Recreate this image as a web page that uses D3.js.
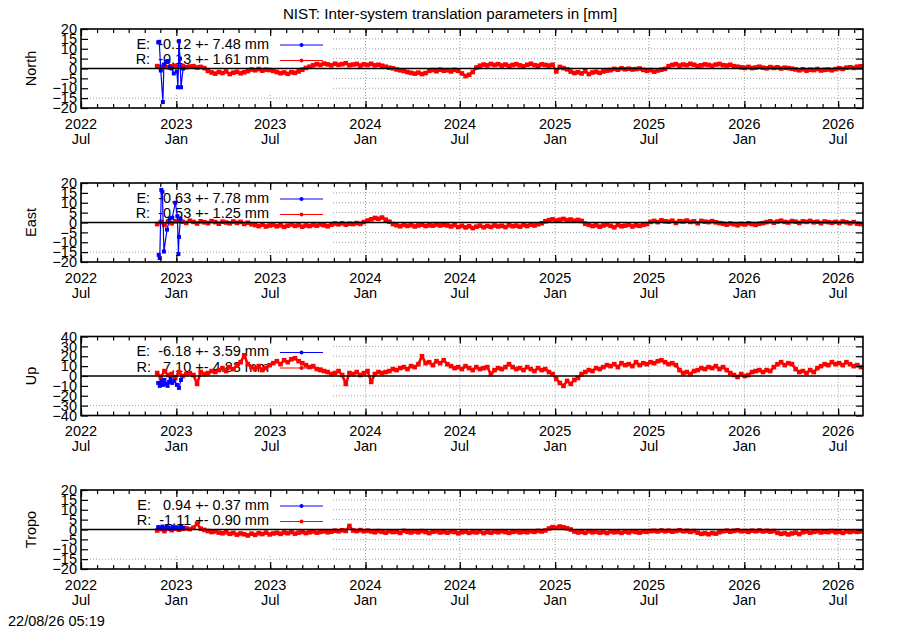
<!DOCTYPE html>
<html>
<head>
<meta charset="utf-8">
<script src="https://cdn.jsdelivr.net/npm/d3@7"></script>
<style>
  body { margin: 0; background: #fff; }
  svg text { font-family: "Liberation Sans", Arial, sans-serif; font-size: 14.5px; }
</style>
</head>
<body>
<div id="chart"></div>
<script>
// ---- data ----
const panelNames = ["North", "East", "Up", "Tropo"];
const yTicksSmall = [-20, -15, -10, -5, 0, 5, 10, 15, 20];
const yTicksUp = [-40, -30, -20, -10, 0, 10, 20, 30, 40];

const legendE = ["E:  -0.12 +- 7.48 mm", "E:  -0.63 +- 7.78 mm", "E:  -6.18 +- 3.59 mm", "E:   0.94 +- 0.37 mm"];
const legendR = ["R:  -0.13 +- 1.61 mm", "R:  -0.53 +- 1.25 mm", "R:   7.10 +- 4.83 mm", "R:  -1.11 +- 0.90 mm"];

// R series: one value per week starting at redStart
const redStart = "2022-11-25";
const redStepDays = 7;

const northR = [1.2,0.8,1.5,0.6,1.1,1.4,0.9,1.3,0.7,1.0,1.2,0.5,0.8,0.2,
  -1.2,-2.0,-2.6,-1.8,-2.3,-1.5,-2.8,-2.1,-1.7,-2.4,-1.9,-1.3,
  -0.5,-0.9,-0.3,-1.1,-0.6,-0.8,-1.2,
  -1.8,-2.4,-2.0,-2.7,-1.9,-2.2,-1.5,
  -0.6,0.3,0.9,1.6,2.2,
  1.8,2.5,2.1,1.6,2.4,1.9,2.2,2.7,1.7,2.0,2.3,1.5,2.1,1.8,2.4,1.6,1.9,1.4,
  0.9,0.4,0.1,-0.5,-0.9,-1.3,-1.8,-2.2,-2.6,-2.1,-2.8,-2.3,
  -1.2,-0.8,-1.4,-0.6,-1.1,-0.9,-1.5,-0.7,-1.2,
  -2.5,-3.8,-3.2,-1.8,
  0.5,1.4,2.0,1.6,2.3,1.8,2.2,
  1.5,2.0,1.3,1.8,2.2,1.6,1.1,1.9,2.4,1.7,1.4,2.1,1.8,1.5,1.9,
  -1.5,
  0.8,0.2,-0.4,
  -1.6,-2.3,-1.9,-2.5,-1.4,-2.8,-2.0,-1.7,-2.2,-1.5,-1.1,-0.8,
  -0.2,-0.6,0.1,-0.4,-0.1,-0.5,-0.3,0.0,-0.7,
  -1.2,-0.8,-1.6,-1.0,-0.6,-0.2,
  1.2,1.8,2.2,1.5,2.0,1.7,2.4,1.9,1.3,1.6,2.1,1.8,1.4,2.0,2.3,1.7,1.5,1.9,1.2,0.9,
  0.6,0.3,0.8,0.2,0.5,0.9,0.4,0.1,0.7,0.3,0.6,0.0,0.4,0.2,-0.1,
  -0.5,-0.9,-0.4,-1.1,-0.6,-0.8,-0.3,-1.0,-0.7,-0.5,-0.9,
  -0.3,0.1,-0.2,0.4,0.6,0.3,0.9,1.1];

const eastR = [-0.8,0.3,-1.2,0.5,-0.4,0.6,
  0.8,0.4,-0.2,0.9,0.3,-0.5,0.6,0.1,-0.3,0.7,0.2,-0.6,0.4,0.0,-0.4,0.5,-0.2,0.3,-0.7,-0.1,-0.9,
  -1.3,-1.8,-1.1,-2.0,-1.5,-1.2,-1.9,-1.4,-2.2,-1.6,-1.0,-1.7,-1.3,-2.1,-1.5,-1.8,-1.2,-1.6,-1.0,-1.4,-1.9,-1.1,
  -0.5,-0.9,-0.4,-1.1,-0.6,-0.8,-0.3,-0.7,0.2,
  1.0,1.6,2.3,1.9,2.5,1.4,0.4,
  -0.8,-1.4,-1.9,-1.2,-1.7,-1.3,-2.0,-1.5,-1.1,-1.8,-1.4,-1.6,-1.0,-1.5,-1.2,
  -1.5,-2.0,-1.3,-2.3,-1.7,-2.5,-1.9,-2.8,-2.1,-1.6,-2.4,-1.8,-2.2,-1.5,-2.0,-1.7,-2.3,-1.4,-1.9,-1.6,-2.1,-1.3,-1.8,-1.1,-1.5,-0.9,-0.4,
  0.6,1.2,1.6,1.0,1.4,1.8,1.2,1.5,0.9,1.3,0.8,
  -0.6,-1.2,-1.8,-1.4,-2.1,-1.5,-1.0,-1.7,-2.4,-1.3,-1.9,-1.6,-1.1,-2.0,-1.4,-1.7,-1.2,-0.8,
  0.3,0.8,0.2,1.1,0.6,0.4,0.9,-0.2,0.7,0.5,1.0,0.3,0.6,-0.4,0.8,0.4,0.2,0.7,0.1,-0.3,
  -0.6,-1.1,-0.5,-0.9,-1.4,-0.7,-1.0,-0.4,-0.8,-1.2,-0.6,-0.3,
  0.2,0.6,-0.1,0.5,0.9,0.3,0.0,0.7,0.4,-0.2,0.6,0.3,0.8,0.1,0.4,-0.3,0.5,0.2,-0.1,
  0.3,-0.2,0.5,0.1,-0.4,0.2,-0.6,-0.8];

const upR = [3,-1,5,1,2,-2,4,0,
  2,3,1,-8,4,2,3,5,4,
  6,8,5,9,7,
  11,14,21,12,
  9,7,10,6,8,11,
  13,15,12,16,14,17,18,15,13,
  11,9,10,7,6,5,
  4,2,3,5,1,-8,3,2,4,1,3,5,-6,2,4,3,
  4,5,7,6,8,9,7,10,9,
  12,20,13,14,11,15,13,16,12,
  10,8,9,7,10,8,6,9,7,8,9,2,6,8,7,9,
  12,9,7,8,6,9,7,5,8,6,7,4,2,
  -3,-7,-10,-5,-8,-4,-2,
  2,4,6,5,8,7,
  9,11,10,12,9,13,11,12,10,14,11,13,12,14,
  13,15,16,14,12,13,11,
  6,3,4,2,5,
  6,8,7,9,8,10,7,9,6,
  3,1,-1,2,0,1,
  4,5,6,4,6,5,
  9,12,14,11,13,12,
  7,4,5,3,6,4,
  8,10,12,11,14,12,13,11,14,12,10,11,9];

const tropoR = [-0.5,0.2,-0.8,0.4,-0.3,0.5,-0.1,0.3,
  0.6,0.2,0.9,3.0,0.4,-0.2,
  -0.8,-1.3,-1.0,-1.6,-1.9,-1.4,-2.2,-1.8,-2.6,-2.0,-2.4,-3.0,-2.1,-2.7,-1.9,-2.3,-1.6,-2.5,-2.0,-1.7,
  -2.2,-1.5,-1.9,-1.3,-2.1,-1.6,-1.2,-1.8,-1.4,-1.0,-1.6,-1.2,-0.9,-1.4,-1.1,
  -0.6,-0.9,-0.4,-0.7,1.8,-0.5,-0.8,-0.3,-0.9,-0.6,
  -1.0,-1.4,-0.8,-1.2,-1.6,-0.9,-1.3,-1.1,-1.7,-0.7,
  -1.2,-1.5,-1.0,-1.4,-0.8,-1.3,-1.8,-1.1,-0.9,-1.5,
  -1.2,-1.6,-1.0,-1.3,-1.9,-1.4,-1.1,-1.7,-1.2,-1.5,
  -1.0,-1.8,-1.3,-1.6,-1.1,-1.4,-0.9,-1.3,-1.7,-1.2,
  -1.0,-1.5,-1.1,-1.4,-0.9,-1.2,-0.7,-1.0,-0.5,
  0.5,1.2,0.9,1.5,1.1,0.6,0.0,
  -1.0,-1.5,-1.2,-1.7,-0.9,-1.4,-1.1,-1.6,-1.3,-1.8,-1.0,-1.4,-1.2,-1.7,-1.1,-1.5,-0.9,-1.3,-1.6,-1.0,-1.2,-0.8,
  -0.7,-1.0,-0.5,-0.9,-0.6,-1.1,-0.8,-0.4,-0.9,-0.7,-1.2,-0.8,
  -1.6,-2.2,-1.9,-2.4,-1.8,-2.1,-1.4,
  -0.9,-0.6,-1.1,-0.7,-0.4,-0.9,-0.8,-1.2,-0.6,-0.9,-0.5,-1.0,-0.7,-1.1,-0.8,
  -1.7,-2.2,-1.9,-2.5,-2.0,-1.6,-2.3,
  -1.4,-1.0,-1.6,-1.2,-0.9,-1.5,-1.1,-1.3,-0.8,-1.4,-1.2,-1.7,-1.0,-1.3,-0.9,-1.2,-1.0];

// E series: sparse early solutions
const northEDates = ["2022-11-27","2022-11-29","2022-12-02","2022-12-06","2022-12-08","2022-12-12","2022-12-16","2022-12-20",
  "2022-12-23","2022-12-27","2023-01-02","2023-01-04","2023-01-06","2023-01-08","2023-01-10","2023-01-14"];
const northE = [13.2,13.5,-1.0,-17.0,2.0,3.5,3.8,0.5,0.0,-2.5,-1.5,-9.5,13.8,5.0,-9.5,0.0];

const eastEDates = ["2022-11-28","2022-11-30","2022-12-03","2022-12-05","2022-12-08","2022-12-14","2022-12-19","2022-12-24",
  "2022-12-30","2023-01-03","2023-01-05","2023-01-06","2023-01-09"];
const eastE = [-16.4,-18.0,16.5,15.5,-14.7,-3.6,1.9,2.4,10.0,3.2,-16.0,-7.3,1.9];

const upEDates = ["2022-11-27","2022-11-30","2022-12-03","2022-12-06","2022-12-09","2022-12-12","2022-12-15","2022-12-18",
  "2022-12-21","2022-12-24","2022-12-28","2023-01-02","2023-01-06","2023-01-10"];
const upE = [-7,-10,-5,-9,-4,-8,-10,-6,-3,-7,-5,-9,-12,-4];

const tropoEDates = ["2022-11-27","2022-12-01","2022-12-05","2022-12-09","2022-12-13","2022-12-17","2022-12-21","2022-12-25",
  "2022-12-29","2023-01-02","2023-01-06","2023-01-10","2023-01-14"];
const tropoE = [1.2,0.8,1.5,0.6,1.3,1.0,0.5,1.4,0.9,1.1,0.7,1.3,0.9];

const titleText = "NIST: Inter-system translation parameters in [mm]";
const stampText = "22/08/26 05:19";

// ---- layout ----
const width = 900, height = 630;
const left = 81, right = 863;
const panelTops = [29, 183, 336.5, 490];
const plotH = 79;
const keyW = 249, keyH = 65;

const parse = d3.utcParse("%Y-%m-%d");
const x = d3.scaleUtc()
  .domain([parse("2022-07-01"), parse("2026-08-18")])
  .range([left, right]);

const majorTicks = d3.utcMonth.every(6).range(parse("2022-07-01"), parse("2026-08-19"));
const minorTicks = d3.utcMonth.range(parse("2022-07-01"), parse("2026-08-19"));

// keep runs of spaces in labels
const keepSpaces = s => s.replace(/ /g, "\u00a0");

const svg = d3.select("#chart")
  .append("svg")
  .attr("width", width)
  .attr("height", height);

svg.append("text")
  .attr("x", 450)
  .attr("y", 15)
  .attr("text-anchor", "middle")
  .attr("dominant-baseline", "middle")
  .style("font-size", "15.2px")
  .text(titleText);

svg.append("text")
  .attr("x", 8)
  .attr("y", 622)
  .attr("dominant-baseline", "middle")
  .text(stampText);

const panels = [
  { name: panelNames[0], ticks: yTicksSmall, red: northR, eDates: northEDates, e: northE },
  { name: panelNames[1], ticks: yTicksSmall, red: eastR, eDates: eastEDates, e: eastE },
  { name: panelNames[2], ticks: yTicksUp, red: upR, eDates: upEDates, e: upE },
  { name: panelNames[3], ticks: yTicksSmall, red: tropoR, eDates: tropoEDates, e: tropoE }
];

panels.forEach((p, k) => {
  const top = panelTops[k];
  const bottom = top + plotH;
  const y = d3.scaleLinear()
    .domain(d3.extent(p.ticks))
    .range([bottom, top]);
  const g = svg.append("g");

  // grid
  g.selectAll(".hgrid")
    .data(p.ticks.slice(1, -1).filter(d => d !== 0))
    .join("line")
    .attr("x1", left)
    .attr("x2", right)
    .attr("y1", d => y(d))
    .attr("y2", d => y(d))
    .attr("stroke", "#a0a0a0")
    .attr("stroke-width", 1)
    .attr("stroke-dasharray", "1,2");

  g.selectAll(".vgrid")
    .data(majorTicks.slice(1))
    .join("line")
    .attr("x1", d => x(d))
    .attr("x2", d => x(d))
    .attr("y1", top)
    .attr("y2", bottom)
    .attr("stroke", "#a0a0a0")
    .attr("stroke-width", 1)
    .attr("stroke-dasharray", "1,2");

  // opaque key box
  g.append("rect")
    .attr("x", left + 1)
    .attr("y", top + 1)
    .attr("width", keyW)
    .attr("height", keyH)
    .attr("fill", "#fff");

  // key
  const rows = [
    { label: legendE[k], color: "#0000ff", dy: 16 },
    { label: legendR[k], color: "#ff0000", dy: 31.5 }
  ];
  rows.forEach(r => {
    g.append("text")
      .attr("x", 269)
      .attr("y", top + r.dy)
      .attr("text-anchor", "end")
      .attr("dominant-baseline", "middle")
      .text(keepSpaces(r.label));
    g.append("line")
      .attr("x1", 280)
      .attr("x2", 323)
      .attr("y1", top + r.dy)
      .attr("y2", top + r.dy)
      .attr("stroke", r.color)
      .attr("stroke-width", 1.2);
    g.append("circle")
      .attr("cx", 301.5)
      .attr("cy", top + r.dy)
      .attr("r", 2)
      .attr("fill", r.color);
  });

  // series
  const red = p.red.map((v, i) => ({ date: d3.utcDay.offset(parse(redStart), i * redStepDays), value: v }));
  const blue = p.e.map((v, i) => ({ date: parse(p.eDates[i]), value: v }));

  const line = d3.line()
    .x(d => x(d.date))
    .y(d => y(d.value));

  const dataG = g.append("g");
  [{ pts: red, color: "#ff0000", w: 2.6, r: 2.3 }, { pts: blue, color: "#0000ff", w: 1.2, r: 2 }].forEach(s => {
    dataG.append("path")
      .datum(s.pts)
      .attr("d", line)
      .attr("fill", "none")
      .attr("stroke", s.color)
      .attr("stroke-width", s.w)
      .attr("stroke-linejoin", "round");
    dataG.selectAll(null)
      .data(s.pts)
      .join("rect")
      .attr("x", d => x(d.date) - s.r)
      .attr("y", d => y(d.value) - s.r)
      .attr("width", s.r * 2)
      .attr("height", s.r * 2)
      .attr("fill", s.color);
  });

  // zero line
  g.append("line")
    .attr("x1", left)
    .attr("x2", right)
    .attr("y1", y(0))
    .attr("y2", y(0))
    .attr("stroke", "#000")
    .attr("stroke-width", 1.5);

  // ticks on all four sides
  const tickAxes = [
    { axis: d3.axisBottom(x).tickValues(minorTicks).tickSize(-4), t: `translate(0,${bottom})` },
    { axis: d3.axisTop(x).tickValues(minorTicks).tickSize(-4), t: `translate(0,${top})` },
    { axis: d3.axisBottom(x).tickValues(majorTicks).tickSize(-7), t: `translate(0,${bottom})` },
    { axis: d3.axisTop(x).tickValues(majorTicks).tickSize(-7), t: `translate(0,${top})` },
    { axis: d3.axisRight(y).tickValues(p.ticks).tickSize(-7), t: `translate(${right},0)` }
  ];
  tickAxes.forEach(a => {
    const ax = g.append("g")
      .attr("transform", a.t)
      .call(a.axis.tickFormat(""));
    ax.select(".domain").remove();
    ax.selectAll("line").attr("stroke-width", 1.2);
  });

  const yAxis = g.append("g")
    .attr("transform", `translate(${left},0)`)
    .call(d3.axisLeft(y).tickValues(p.ticks).tickSize(-7).tickPadding(4));
  yAxis.select(".domain").remove();
  yAxis.selectAll("line").attr("stroke-width", 1.2);
  yAxis.selectAll("text")
    .attr("font-size", 14.5)
    .attr("font-family", "Liberation Sans, Arial, sans-serif")
    .attr("fill", "#000");

  // two-line date labels
  const xLab = g.append("g");
  majorTicks.forEach(d => {
    xLab.append("text")
      .attr("x", x(d))
      .attr("y", bottom + 17)
      .attr("text-anchor", "middle")
      .attr("dominant-baseline", "middle")
      .text(d3.utcFormat("%Y")(d));
    xLab.append("text")
      .attr("x", x(d))
      .attr("y", bottom + 32)
      .attr("text-anchor", "middle")
      .attr("dominant-baseline", "middle")
      .text(d3.utcFormat("%b")(d));
  });

  // panel label
  g.append("text")
    .attr("transform", `translate(32,${top + plotH / 2}) rotate(-90)`)
    .attr("text-anchor", "middle")
    .attr("dominant-baseline", "middle")
    .text(p.name);

  // border
  g.append("rect")
    .attr("x", left)
    .attr("y", top)
    .attr("width", right - left)
    .attr("height", plotH)
    .attr("fill", "none")
    .attr("stroke", "#000")
    .attr("stroke-width", 1.6);
});
</script>
</body>
</html>
